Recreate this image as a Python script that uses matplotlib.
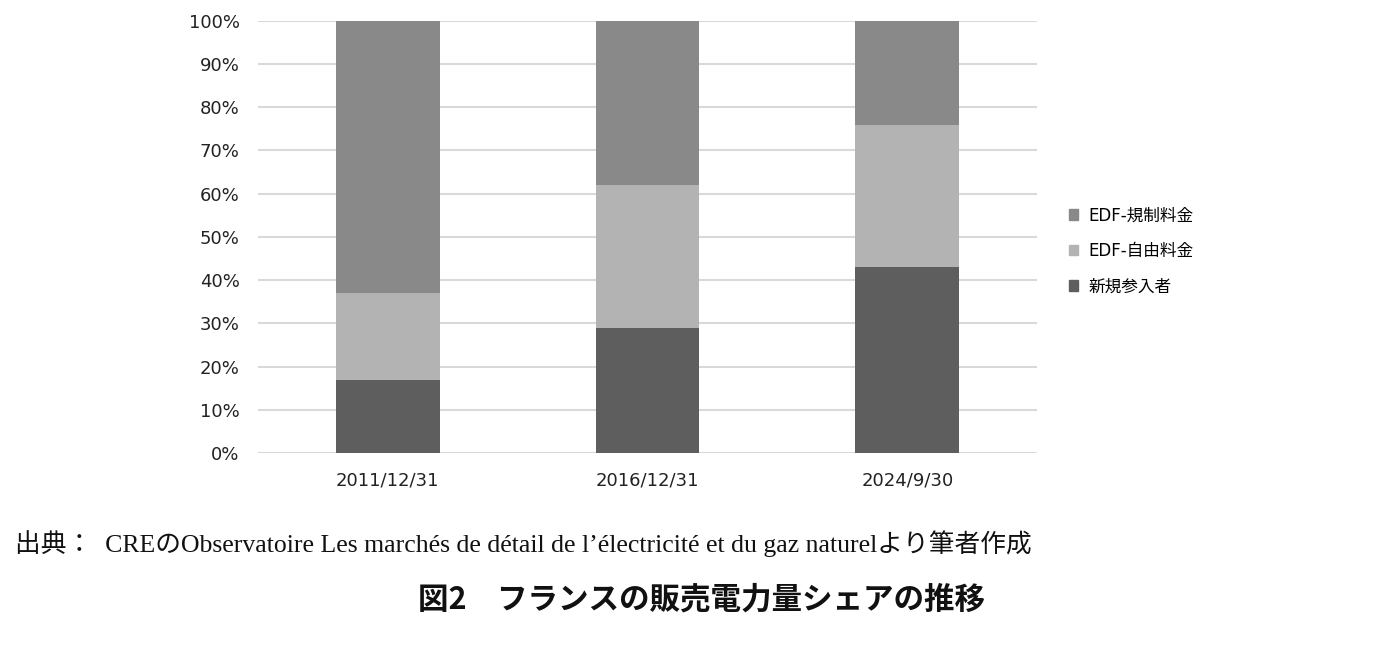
import matplotlib.pyplot as plt
import numpy as np
from matplotlib.patches import Patch

# データ（グラフから読み取り、%）
dates = ['2011/12/31', '2016/12/31', '2024/9/30']
new_entrants = [17, 29, 43]   # 新規参入者
edf_free = [20, 33, 33]       # EDF-自由料金
edf_regulated = [63, 38, 24]  # EDF-規制料金

series_labels = ['新規参入者', 'EDF-自由料金', 'EDF-規制料金']
colors = ['#5e5e5e', '#b3b3b3', '#898989']

fig = plt.figure(figsize=(14, 6.5), dpi=100)
ax = fig.add_axes([0.184, 0.303, 0.557, 0.665])

x = np.arange(len(dates))
w = 0.4
bottom = np.zeros(len(dates))
for vals, lab, c in zip([new_entrants, edf_free, edf_regulated], series_labels, colors):
    ax.bar(x, vals, w, bottom=bottom, color=c, label=lab, zorder=3)
    bottom += np.array(vals)

ax.set_xlim(-0.5, 2.5)
ax.set_ylim(0, 100)
ax.set_yticks(np.arange(0, 101, 10))
ax.set_yticklabels([f'{v}%' for v in range(0, 101, 10)], fontsize=13, color='#222222')
ax.set_xticks(x)
ax.set_xticklabels(dates, fontsize=13, color='#222222')
ax.tick_params(axis='y', length=0, pad=13)
ax.tick_params(axis='x', length=0, pad=13)
ax.grid(axis='y', color='#d9d9d9', linewidth=1.5, zorder=0)
for s in ax.spines.values():
    s.set_visible(False)

handles = [Patch(color=colors[i]) for i in [2, 1, 0]]
labels = [series_labels[i] for i in [2, 1, 0]]
fig.legend(handles, labels, loc='center left', bbox_to_anchor=(0.753, 0.614),
           frameon=False, handlelength=0.55, handleheight=0.55, handletextpad=0.6,
           labelspacing=1.05, prop={'family': ['DejaVu Sans', 'Noto Sans CJK JP'], 'size': 12})

fig.text(0.011, 0.164,
         '出典：  CREのObservatoire Les marchés de détail de l\u2019électricité et du gaz naturelより筆者作成',
         fontsize=18.5, family=['Liberation Serif', 'Noto Sans CJK JP'], va='center', color='#111111')
fig.text(0.501, 0.078, '図2\u3000フランスの販売電力量シェアの推移',
         fontsize=22, fontweight='bold', family=['Noto Sans CJK JP', 'DejaVu Sans'],
         ha='center', va='center', color='#111111')

plt.savefig('out.png', dpi=100)
